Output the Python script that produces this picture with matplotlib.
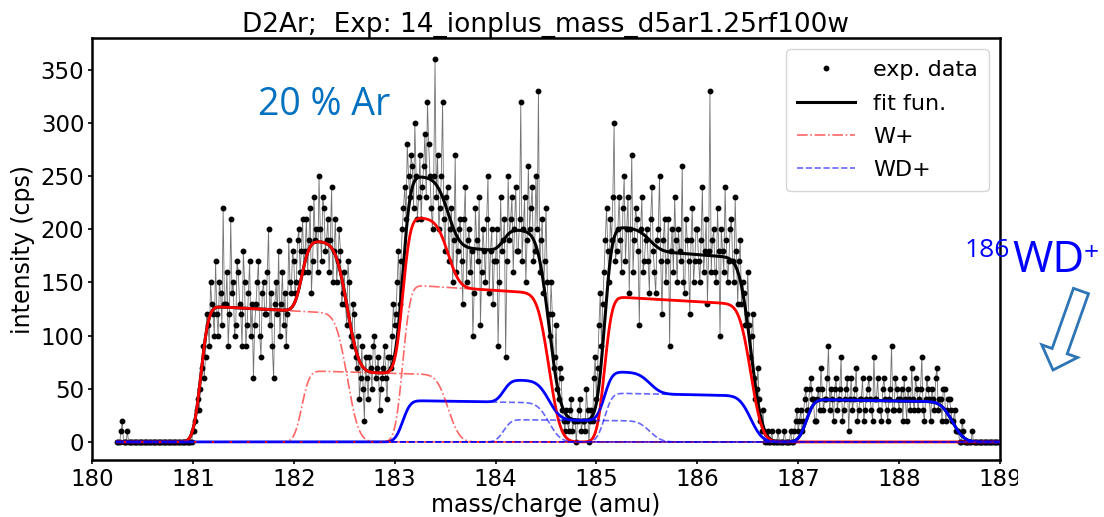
import math
import numpy as np
import matplotlib
matplotlib.use("Agg")
import matplotlib.pyplot as plt
import matplotlib.patches as mpatches
from matplotlib.transforms import IdentityTransform

W, H = 1104, 517

# measured count rate (cps), 0.0125 amu steps, one list per unit of mass
mass_step = 0.0125
counts_180 = [0, 0, 0, 10, 20, 0, 0, 0, 10, 0] + [0] * 50      # 180.25 ...
counts_181 = [10, 10, 20, 30, 40, 30, 50, 70, 90, 60, 80, 120, 110, 90, 150, 130, 120, 100, 170, 120,
              100, 150, 140, 110, 220, 130, 130, 160, 90, 120, 210, 140, 150, 100, 110, 170, 160, 130, 120, 90,
              180, 150, 90, 110, 140, 170, 100, 130, 60, 110, 130, 150, 170, 100, 80, 140, 150, 120, 120, 160,
              200, 110, 140, 90, 60, 130, 150, 120, 180, 100, 130, 160, 110, 140, 90, 120, 190, 150, 140, 180]
counts_182 = [170, 140, 150, 190, 200, 160, 180, 210, 160, 180, 210, 160, 190, 220, 140, 170, 230, 190, 200, 160,
              250, 200, 170, 230, 220, 180, 190, 210, 160, 190, 240, 150, 180, 210, 150, 170, 200, 180, 130, 140,
              160, 130, 110, 170, 150, 100, 90, 130, 120, 80, 70, 100, 40, 60, 90, 50, 20, 80, 60, 40,
              80, 70, 50, 90, 100, 60, 70, 80, 30, 50, 60, 70, 90, 60, 40, 80, 80, 70, 100, 130]
counts_183 = [110, 120, 150, 180, 130, 170, 200, 220, 240, 210, 280, 250, 230, 270, 260, 220, 300, 250, 210, 230,
              270, 210, 240, 260, 290, 230, 320, 280, 250, 220, 200, 250, 360, 230, 270, 200, 220, 250, 320, 210,
              180, 230, 240, 170, 200, 220, 150, 190, 270, 160, 180, 200, 210, 170, 130, 210, 240, 150, 190, 200,
              160, 180, 100, 140, 220, 190, 170, 230, 110, 160, 200, 180, 150, 210, 250, 140, 180, 200, 130, 170]
counts_184 = [170, 200, 90, 150, 230, 180, 190, 210, 80, 170, 250, 190, 210, 230, 160, 200, 240, 180, 180, 210,
              320, 170, 200, 230, 150, 190, 260, 200, 220, 240, 170, 180, 250, 200, 330, 160, 190, 210, 140, 170,
              220, 150, 120, 100, 150, 120, 70, 80, 110, 50, 40, 70, 60, 30, 20, 10, 30, 20, 10, 30,
              40, 10, 20, 20, 0, 20, 30, 40, 10, 20, 20, 10, 50, 30, 0, 20, 30, 20, 60, 80]
counts_185 = [40, 70, 110, 140, 90, 130, 160, 190, 220, 180, 150, 210, 190, 230, 300, 170, 180, 200, 230, 190,
              160, 220, 250, 170, 200, 230, 140, 200, 270, 160, 190, 220, 210, 180, 110, 200, 230, 160, 170, 190,
              200, 170, 140, 210, 240, 180, 160, 140, 190, 200, 250, 170, 120, 190, 210, 150, 170, 210, 90, 180,
              200, 160, 230, 190, 150, 200, 180, 170, 260, 150, 140, 210, 190, 170, 120, 190, 220, 150, 170, 200]
counts_186 = [200, 170, 150, 190, 240, 160, 180, 210, 130, 180, 330, 160, 190, 200, 160, 150, 220, 180, 100, 200,
              180, 160, 240, 190, 150, 170, 200, 210, 170, 150, 230, 180, 130, 170, 190, 130, 150, 140, 110, 120,
              160, 110, 80, 100, 120, 60, 40, 50, 70, 40, 20, 10, 30, 10, 0, 0, 10, 0, 0, 10,
              0, 0, 0, 0, 10, 0, 0, 0, 0, 10, 0, 0, 0, 0, 10, 0, 0, 10, 20, 30]
counts_187 = [10, 20, 30, 10, 20, 40, 50, 30, 30, 50, 60, 40, 40, 20, 20, 40, 50, 30, 70, 50,
              30, 40, 40, 60, 90, 30, 50, 40, 20, 50, 60, 30, 40, 50, 80, 20, 30, 40, 50, 60,
              10, 40, 60, 30, 40, 50, 70, 20, 30, 40, 40, 60, 20, 30, 40, 50, 60, 40, 30, 20,
              80, 40, 40, 60, 30, 30, 20, 50, 60, 40, 30, 20, 40, 50, 90, 30, 30, 60, 50, 40]
counts_188 = [30, 40, 50, 20, 60, 40, 20, 50, 40, 30, 70, 40, 30, 60, 50, 30, 40, 50, 80, 30,
              20, 40, 60, 50, 40, 20, 50, 40, 30, 60, 70, 30, 40, 40, 20, 50, 50, 20, 30, 40,
              40, 30, 20, 20, 30, 10, 10, 10, 0, 0, 20, 10, 0, 0, 0, 0, 0, 0, 10, 0,
              0, 0, 0, 0, 0, 0, 0, 0, 0, 0, 0, 0, 0, 0, 0, 0, 0, 0, 0, 0]

# fitted isotope peaks: W+ and WD+ (= W + 2 amu)
w_masses = [182, 183, 184, 186]
w_heights = [128, 67, 148, 137]
wd_masses = [184, 185, 186, 188]
wd_heights = [39, 21, 46, 40]
edge_lo, edge_hi = -0.92, 0.53      # flat top relative to nominal mass
sigma_lo, sigma_hi = 0.06, 0.09
tilt = 0.04                         # relative drop of the flat top per amu

chunks = [(180.25, counts_180), (181.0, counts_181), (182.0, counts_182),
          (183.0, counts_183), (184.0, counts_184), (185.0, counts_185),
          (186.0, counts_186), (187.0, counts_187), (188.0, counts_188)]
mass = np.concatenate([start + mass_step * np.arange(len(c)) for start, c in chunks])
counts = np.concatenate([np.array(c, dtype=float) for _, c in chunks])

erf = np.vectorize(math.erf)


def peak(x, m, h):
    lo, hi = m + edge_lo, m + edge_hi
    rise = 0.5 * (1 + erf((x - lo) / (math.sqrt(2) * sigma_lo)))
    fall = 0.5 * (1 - erf((x - hi) / (math.sqrt(2) * sigma_hi)))
    return h * (1 - tilt * (x - lo)) * rise * fall


x_fit = np.linspace(180.25, 189.0, 1500)
w_parts = [peak(x_fit, m, h) for m, h in zip(w_masses, w_heights)]
wd_parts = [peak(x_fit, m, h) for m, h in zip(wd_masses, wd_heights)]
w_sum = np.sum(w_parts, axis=0)
wd_sum = np.sum(wd_parts, axis=0)
total = w_sum + wd_sum

fig = plt.figure(figsize=(W / 100, H / 100), dpi=100)
ax = fig.add_axes([92 / W, 1 - 460 / H, 908 / W, 422 / H])

ax.plot(mass, counts, color="0.45", lw=0.6, zorder=1)
ax.plot(mass, counts, "o", color="k", ms=3.2, ls="none", label="exp. data", zorder=2)
ax.plot(x_fit, total, color="k", lw=2.2, label="fit fun.", zorder=3)
ax.plot(x_fit, w_sum, color="red", lw=2.0, zorder=4)
ax.plot(x_fit, wd_sum, color="blue", lw=2.0, zorder=5)
for i, part in enumerate(w_parts):
    ax.plot(x_fit, part, color="red", ls="-.", lw=1.2, alpha=0.6,
            label="W+" if i == 0 else None, zorder=6)
for i, part in enumerate(wd_parts):
    ax.plot(x_fit, part, color="blue", ls="--", lw=1.2, alpha=0.6,
            label="WD+" if i == 0 else None, zorder=6)

ax.set_xlim(180, 189)
ax.set_ylim(-17, 380)
ax.set_xticks(range(180, 190))
ax.set_yticks(range(0, 351, 50))
ax.tick_params(labelsize=16.5, length=3, width=1.2, pad=2.5)
for sp in ax.spines.values():
    sp.set_linewidth(1.8)

ax.set_title("D2Ar;  Exp: 14_ionplus_mass_d5ar1.25rf100w", fontsize=19, pad=4)
ax.set_xlabel("mass/charge (amu)", fontsize=17, labelpad=2)
ax.set_ylabel("intensity (cps)", fontsize=17, labelpad=4)

ax.legend(loc="upper right", fontsize=16, handlelength=2.6, labelspacing=0.6,
          borderpad=0.5, borderaxespad=0.5)

# trim the last tick label at the right edge
fig.add_artist(mpatches.Rectangle((1018, 0), W - 1018, H, transform=IdentityTransform(),
                                  facecolor="white", edgecolor="none", zorder=5))

fig.text(258 / W, 1 - 115 / H, "20 % Ar", color="#0070C0", fontsize=27,
         family="Open Sans", ha="left", va="baseline", zorder=6)
fig.text(965 / W, 1 - 257 / H, "186", color="#0000FF", fontsize=19,
         family="Open Sans", ha="left", va="baseline", zorder=6)
fig.text(1012 / W, 1 - 272 / H, "WD", color="#0000FF", fontsize=31.5,
         family="Open Sans", ha="left", va="baseline", zorder=6)
fig.text(1084 / W, 1 - 260 / H, "+", color="#0000FF", fontsize=19,
         family="Open Sans", ha="left", va="baseline", zorder=6)

fig.add_artist(mpatches.FancyArrow(1081, H - 291, -28, -79, width=16, head_width=38,
                                   head_length=20, length_includes_head=True,
                                   facecolor="white", edgecolor="#2E75B6", lw=2,
                                   transform=IdentityTransform(), zorder=6))

fig.savefig("out.png", dpi=100)
